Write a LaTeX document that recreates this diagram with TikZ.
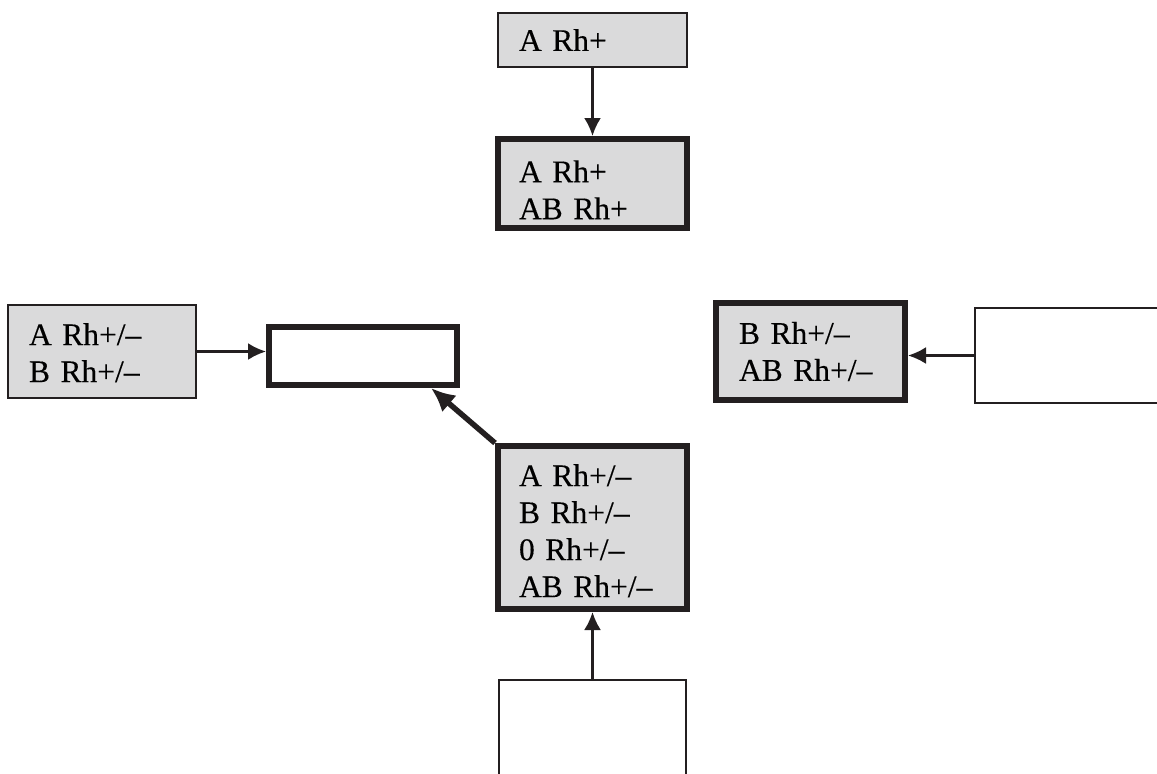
\documentclass[tikz,border=0pt]{standalone}
\usepackage{fontspec}
\setmainfont{Liberation Serif}[FakeBold=0.3]
\usetikzlibrary{arrows.meta}
\definecolor{boxgray}{RGB}{218,218,219}
\definecolor{ink}{RGB}{35,31,32}

\begin{document}
\begin{tikzpicture}[x=1pt, y=-1pt, every text node part/.style={align=left},
        thinbox/.style={draw=ink, line width=2pt, inner sep=0pt, anchor=north west, font=\fontsize{31.5}{37}\selectfont},
        thickbox/.style={thinbox, line width=6pt}]
        \clip (0, 0) rectangle (1157, 774);
        \fill[white] (0, 0) rectangle (1157, 774);

        \node(Apos) at (497, 12)[thinbox, fill=boxgray, minimum width=189pt, minimum height=54pt, text width=147pt]{A Rh+};
        \node(AposABpos) at (495, 136)[thickbox, fill=boxgray, minimum width=189pt, minimum height=89pt, text width=147pt]{\rule{0pt}{34.5pt}A Rh+\\AB Rh+};

        \node(AandB) at (7, 304)[thinbox, fill=boxgray, minimum width=188pt, minimum height=93pt, text width=146pt]{\rule{0pt}{24.5pt}A Rh+/–\\B Rh+/–};
        \node(Blank) at (266, 324)[thickbox, minimum width=188pt, minimum height=58pt]{};
        \node(BandAB) at (713, 300)[thickbox, fill=boxgray, minimum width=189pt, minimum height=97pt, text width=143pt]{B Rh+/–\\AB Rh+/–};
        \node(RightBlank) at (974, 307)[thinbox, minimum width=220pt, minimum height=95pt]{};

        \node(AllTypes) at (495, 443)[thickbox, fill=boxgray, minimum width=189pt, minimum height=163pt, text width=147pt]{\rule{0pt}{28.5pt}A Rh+/–\\B Rh+/–\\0 Rh+/–\\AB Rh+/–};
        \node(BottomBlank) at (498, 679)[thinbox, minimum width=187pt, minimum height=120pt]{};

        \draw[-{Latex[length=18pt, width=17pt]}, color=ink, line width=2.5pt](Apos.south) -- (AposABpos.north);
        \draw[-{Latex[length=18pt, width=17pt]}, color=ink, line width=2.5pt](AandB.east) -- (AandB.east -| Blank.west);
        \draw[-{Latex[length=18pt, width=17pt]}, color=ink, line width=2.5pt](RightBlank.west) -- (RightBlank.west -| BandAB.east);
        \draw[-{Latex[length=18pt, width=17pt]}, color=ink, line width=2.5pt](BottomBlank.north) -- (AllTypes.south);
        \draw[-{Latex[length=24pt, width=22pt]}, color=ink, line width=5.5pt](AllTypes.north west) -- ([xshift=-29pt]Blank.south east);

    \end{tikzpicture}
\end{document}
